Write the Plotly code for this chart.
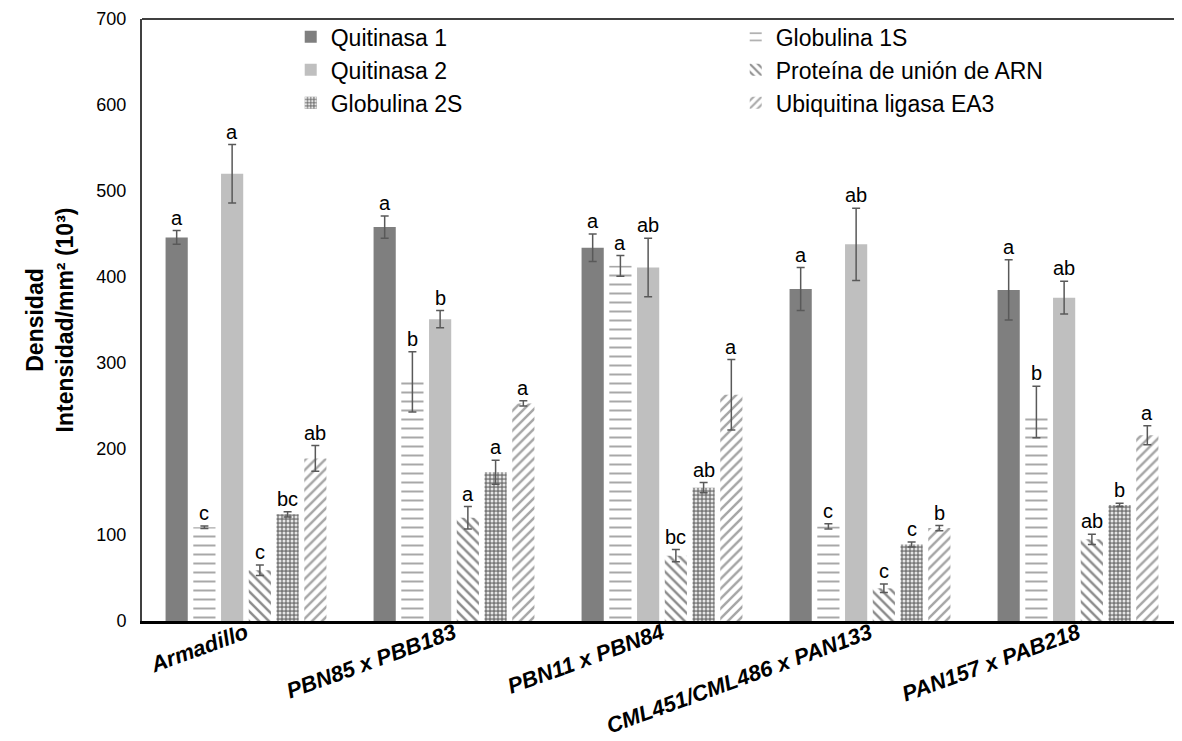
import plotly.graph_objects as go

categories = ["Armadillo", "PBN85 x PBB183", "PBN11 x PBN84", "CML451/CML486 x PAN133", "PAN157 x PAB218"]

series_names = ["Quitinasa 1", "Globulina 1S", "Quitinasa 2", "Proteína de unión de ARN", "Globulina 2S", "Ubiquitina ligasa EA3"]

quitinasa1 = [446, 458, 434, 386, 385]
quitinasa1_err = [8, 13, 16, 25, 35]
globulina1s = [109, 278, 413, 110, 243]
globulina1s_err = [1.5, 35, 12, 3, 30]
quitinasa2 = [520, 351, 411, 438, 376]
quitinasa2_err = [34, 10, 34, 42, 19]
proteina = [59, 120, 76, 38, 95]
proteina_err = [6, 13, 7, 5, 6]
globulina2s = [124, 173, 155, 89, 135]
globulina2s_err = [3, 14, 6, 3, 2]
ubiquitina = [189, 253, 263, 108, 216]
ubiquitina_err = [15, 3, 41, 3, 11]

letters_q1 = ["a", "a", "a", "a", "a"]
letters_g1s = ["c", "b", "a", "c", "b"]
letters_q2 = ["a", "b", "ab", "ab", "ab"]
letters_prot = ["c", "a", "bc", "c", "ab"]
letters_g2s = ["bc", "a", "ab", "c", "b"]
letters_ubi = ["ab", "a", "a", "b", "a"]

values = [quitinasa1, globulina1s, quitinasa2, proteina, globulina2s, ubiquitina]
errors = [quitinasa1_err, globulina1s_err, quitinasa2_err, proteina_err, globulina2s_err, ubiquitina_err]
letters = [letters_q1, letters_g1s, letters_q2, letters_prot, letters_g2s, letters_ubi]

markers = [
    dict(color="#7f7f7f"),
    dict(color="white", pattern=dict(shape="-", fgcolor="#a8a8a8", bgcolor="white", size=9, solidity=0.22, fillmode="replace")),
    dict(color="#bfbfbf"),
    dict(color="white", pattern=dict(shape="\\", fgcolor="#8c8c8c", bgcolor="white", size=7, solidity=0.35, fillmode="replace")),
    dict(color="#8a8a8a", pattern=dict(shape=".", fgcolor="#e6e6e6", bgcolor="#7a7a7a", size=4, solidity=0.45, fillmode="replace")),
    dict(color="white", pattern=dict(shape="/", fgcolor="#a6a6a6", bgcolor="white", size=7, solidity=0.35, fillmode="replace")),
]

xpos = list(range(len(categories)))
fig = go.Figure()
for name, vals, errs, mk in zip(series_names, values, errors, markers):
    fig.add_trace(go.Bar(
        x=xpos, y=vals, name=name,
        marker=dict(line=dict(width=0), **mk),
        error_y=dict(type="data", array=errs, visible=True, color="#595959", thickness=1.5, width=4),
    ))

bargap = 0.2
n = len(series_names)
slot = (1 - bargap) / n
for i, (vals, errs, lets) in enumerate(zip(values, errors, letters)):
    off = -(1 - bargap) / 2 + slot * (i + 0.5)
    for j, (v, e, t) in enumerate(zip(vals, errs, lets)):
        fig.add_annotation(x=xpos[j] + off, y=v + e, text=t, showarrow=False,
                           yanchor="bottom", yshift=0,
                           font=dict(family="Liberation Sans, Arial", size=20, color="black"))

fig.add_shape(type="line", xref="paper", yref="paper", x0=0, x1=1, y0=1, y1=1,
              line=dict(color="black", width=1.5))

fig.update_layout(
    width=1174, height=733,
    margin=dict(l=134, r=0, t=11, b=120),
    plot_bgcolor="white", paper_bgcolor="white",
    barmode="group", bargap=bargap, bargroupgap=0.2,
    font=dict(family="Liberation Sans, Arial", color="black"),
    legend=dict(orientation="h", x=0.143, y=1.006, xanchor="left", yanchor="top",
                entrywidth=400, entrywidthmode="pixels",
                font=dict(size=23, color="black"), bgcolor="rgba(0,0,0,0)",
                traceorder="normal", itemclick=False),
    xaxis=dict(tickvals=xpos, ticktext=categories, range=[-0.5, len(categories) - 0.5],
               tickangle=-20, showline=True, linecolor="black", linewidth=3,
               ticks="", showgrid=False, zeroline=False, automargin=False,
               ticklabelstandoff=-12,
               tickfont=dict(family="Liberation Sans, Arial", size=22, color="black",
                             weight="bold", style="italic")),
    yaxis=dict(range=[0, 700], tickvals=[0, 100, 200, 300, 400, 500, 600, 700],
               showline=True, linecolor="#404040", linewidth=2, ticks="",
               showgrid=False, zeroline=False, automargin=False,
               ticklabelstandoff=10,
               tickfont=dict(size=18, color="black"),
               title=dict(text="Densidad<br>Intensidad/mm² (10³)", standoff=16,
                          font=dict(size=23, color="black", weight="bold"))),
)

fig.write_html("out.html")
